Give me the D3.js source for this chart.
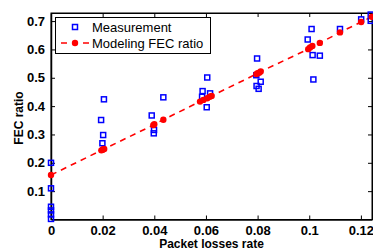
<!DOCTYPE html>
<html><head><meta charset="utf-8">
<script src="https://cdn.jsdelivr.net/npm/d3@7"></script>
<style>body{margin:0;background:#fff}svg{display:block}text{font-family:"Liberation Sans",Arial,sans-serif}</style>
</head><body>
<svg id="c" width="373" height="250"></svg>
<script>
const measX = [0,0,0,0,0,0, 0.0205,0.0194,0.0202,0.0199, 0.0435,0.0390,0.0399,0.0398, 0.0605,0.0587,0.0616,0.0585,0.0603, 0.0798,0.0795,0.0812,0.0796,0.0804, 0.1009,0.0994,0.1013,0.1041,0.1016,0.1119,0.1201,0.1238,0.1238];
const measY = [0.200,0.110,0.045,0.032,0.018,0.002, 0.424,0.351,0.298,0.269, 0.431,0.367,0.316,0.304, 0.501,0.453,0.445,0.433,0.396, 0.568,0.509,0.486,0.471,0.461, 0.672,0.635,0.580,0.578,0.494,0.672,0.706,0.723,0.701];
const modX = [0, 0.0195,0.0200,0.0203,0.0206, 0.0396,0.0400,0.0435, 0.0577,0.0590,0.0605,0.0615,0.0622, 0.0795,0.0800,0.0806,0.0812, 0.0996,0.1003,0.1012,0.1041,0.1119,0.1201,0.1242];
const modY = [0.157, 0.244,0.246,0.248,0.249, 0.333,0.336,0.352, 0.416,0.422,0.428,0.433,0.436, 0.513,0.516,0.518,0.522, 0.601,0.607,0.612,0.623,0.660,0.697,0.715];
const xTicks = [0,0.02,0.04,0.06,0.08,0.1,0.12];
const xTickLabels = ["0","0.02","0.04","0.06","0.08","0.1","0.12"];
const yTicks = [0.1,0.2,0.3,0.4,0.5,0.6,0.7];
const yTickLabels = ["0.1","0.2","0.3","0.4","0.5","0.6","0.7"];
const legendLabels = ["Measurement","Modeling FEC ratio"];

const L=51,R=372,T=13,B=219.5;
const svg=d3.select("#c");
const x=d3.scaleLinear().domain([0,0.1243]).range([L,R]);
const y=d3.scaleLinear().domain([0,0.7285]).range([B,T]);

svg.append("rect").attr("x",L).attr("y",T).attr("width",R-L).attr("height",B-T).attr("fill","#fff").attr("stroke","#000").attr("stroke-width",1);
const fs="13px";
const xa=svg.append("g").attr("transform",`translate(0,${B})`).call(d3.axisBottom(x).tickValues(xTicks).tickFormat((d,i)=>xTickLabels[i]).tickSizeInner(-4).tickSizeOuter(0).tickPadding(6));
const xt=svg.append("g").attr("transform",`translate(0,${T})`).call(d3.axisTop(x).tickValues(xTicks).tickFormat("").tickSizeInner(-4).tickSizeOuter(0));
const ya=svg.append("g").attr("transform",`translate(${L},0)`).call(d3.axisLeft(y).tickValues(yTicks).tickFormat((d,i)=>yTickLabels[i]).tickSizeInner(-4).tickSizeOuter(0).tickPadding(6));
const yr=svg.append("g").attr("transform",`translate(${R},0)`).call(d3.axisRight(y).tickValues(yTicks).tickFormat("").tickSizeInner(-4).tickSizeOuter(0));
[xa,xt,ya,yr].forEach(g=>{g.select(".domain").attr("stroke","#000").attr("stroke-width",1.5);g.selectAll("line").attr("stroke","#000");g.selectAll("text").attr("fill","#000").style("font-size",fs).style("font-weight","bold").attr("font-family",null);});
xt.select(".domain").attr("stroke-width",1);yr.select(".domain").attr("stroke-width",1);

svg.append("text").attr("x",(L+R)/2).attr("y",248).attr("text-anchor","middle").style("font-size","12px").style("font-weight","bold").text("Packet losses rate");
svg.append("text").attr("transform","translate(23,118) rotate(-90)").attr("text-anchor","middle").style("font-size","12px").style("font-weight","bold").text("FEC ratio");

const md=modX.map((v,i)=>[v,modY[i]]).sort((a,b)=>a[0]-b[0]);
svg.append("path").datum(md).attr("d",d3.line().x(d=>x(d[0])).y(d=>y(d[1]))).attr("fill","none").attr("stroke","#ff0000").attr("stroke-width",1.6).attr("stroke-dasharray","6,5");

const s=5;
svg.append("g").selectAll("rect").data(measX.map((v,i)=>[v,measY[i]])).join("rect")
 .attr("x",d=>x(d[0])-s/2).attr("y",d=>y(d[1])-s/2).attr("width",s).attr("height",s)
 .attr("fill","none").attr("stroke","#0000ff").attr("stroke-width",1.5);
svg.append("g").selectAll("circle").data(md).join("circle")
 .attr("cx",d=>x(d[0])).attr("cy",d=>y(d[1])).attr("r",3.2).attr("fill","#ff0000");

const lg=svg.append("g");
lg.append("rect").attr("x",55.5).attr("y",17.5).attr("width",155).attr("height",36).attr("fill","#fff").attr("stroke","#000").attr("stroke-width",1);
lg.append("rect").attr("x",75-s/2).attr("y",27-s/2).attr("width",s).attr("height",s).attr("fill","none").attr("stroke","#0000ff").attr("stroke-width",1.5);
lg.append("line").attr("x1",61).attr("x2",89).attr("y1",43).attr("y2",43).attr("stroke","#ff0000").attr("stroke-width",1.6).attr("stroke-dasharray","6,5");
lg.append("circle").attr("cx",75).attr("cy",43).attr("r",3.2).attr("fill","#ff0000");
lg.selectAll("text.l").data(legendLabels).join("text").attr("class","l").attr("x",92).attr("y",(d,i)=>27+16*i).attr("dy","0.35em").style("font-size",fs).text(d=>d);
</script>
</body></html>
